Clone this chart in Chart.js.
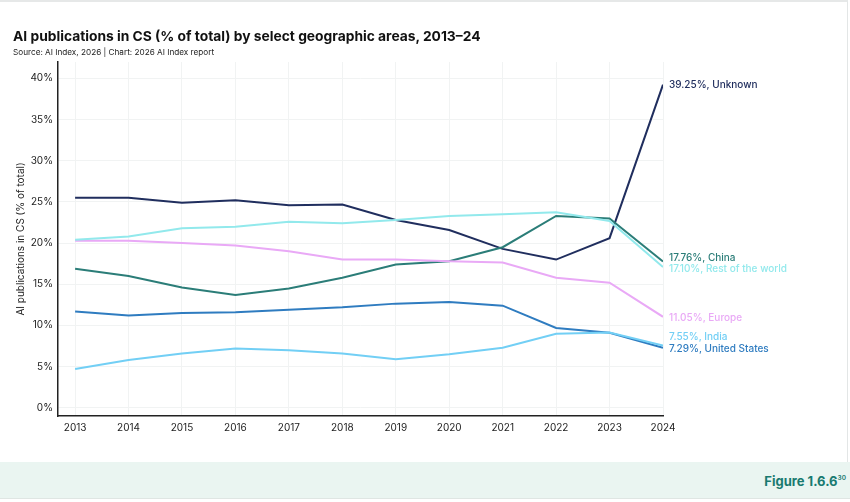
<!DOCTYPE html>
<html>
<head>
<meta charset="utf-8">
<script src="https://cdn.jsdelivr.net/npm/chart.js@4.4.1/dist/chart.umd.min.js"></script>
<style>
  html, body { margin: 0; padding: 0; background: #fff; }
  body { width: 850px; height: 502px; position: relative; overflow: hidden; font-family: Inter, "Open Sans", sans-serif; }
  #card { position: absolute; left: 0; top: 0; width: 848px; height: 462px; border-top: 2px solid #e6e8e8; border-right: 1px solid #e3e6e6; box-sizing: border-box; }
  #title { position: absolute; left: 13px; top: 28px; font-size: 13.8px; font-weight: 700; color: #111; }
  #sub { position: absolute; left: 13px; top: 47px; font-size: 8.2px; color: #222; }
  #wrap { position: absolute; left: 0; top: 0; width: 850px; height: 462px; }
  #foot { position: absolute; left: 0; top: 462px; width: 850px; height: 36px; background: #eaf5f1; border-bottom: 1px solid #dfe6e3; }
  #fig { position: absolute; right: 4px; top: 11px; font-size: 13px; font-weight: 700; color: #197a70; }
  #fig sup { font-size: 6.5px; font-weight: 600; vertical-align: 6px; }
</style>
</head>
<body>
<div id="card"></div>
<div id="wrap"><canvas id="c" width="850" height="462"></canvas></div>
<div id="title">AI publications in CS (% of total) by select geographic areas, 2013–24</div>
<div id="sub">Source: AI Index, 2026 | Chart: 2026 AI Index report</div>
<div id="foot"><div id="fig">Figure 1.6.6<sup>30</sup></div></div>
<script>
const years = [2013, 2014, 2015, 2016, 2017, 2018, 2019, 2020, 2021, 2022, 2023, 2024];
const yTicks = [0, 5, 10, 15, 20, 25, 30, 35, 40];

const unknown = [25.5, 25.5, 24.9, 25.2, 24.6, 24.7, 22.8, 21.6, 19.3, 18.0, 20.6, 39.25];
const china = [16.9, 16.0, 14.6, 13.7, 14.5, 15.8, 17.4, 17.8, 19.5, 23.3, 23.0, 17.76];
const restOfWorld = [20.4, 20.8, 21.8, 22.0, 22.6, 22.4, 22.8, 23.3, 23.5, 23.75, 22.7, 17.10];
const europe = [20.3, 20.3, 20.0, 19.7, 19.0, 18.0, 18.0, 17.8, 17.65, 15.8, 15.2, 11.05];
const india = [4.7, 5.8, 6.6, 7.2, 7.0, 6.6, 5.9, 6.5, 7.3, 9.0, 9.15, 7.55];
const unitedStates = [11.7, 11.2, 11.5, 11.6, 11.9, 12.2, 12.65, 12.85, 12.4, 9.7, 9.1, 7.29];

const series = [
  { name: "Rest of the world", data: restOfWorld, color: "#92e9ec", dy: 2 },
  { name: "Europe", data: europe, color: "#e9a9f6", dy: 1 },
  { name: "India", data: india, color: "#72cff5", dy: -9 },
  { name: "United States", data: unitedStates, color: "#2f7cc0", dy: 1 },
  { name: "China", data: china, color: "#2b7d78", dy: -4 },
  { name: "Unknown", data: unknown, color: "#202e5e", dy: 0 }
];

const endLabels = {
  id: "endLabels",
  afterDatasetsDraw(chart) {
    const ctx = chart.ctx;
    const xs = chart.scales.x, ys = chart.scales.y;
    ctx.save();
    ctx.font = "500 10px Inter, 'Open Sans', sans-serif";
    ctx.textBaseline = "middle";
    ctx.textAlign = "left";
    series.forEach(s => {
      const v = s.data[s.data.length - 1];
      const x = xs.getPixelForValue(years[years.length - 1]) + 6;
      const y = ys.getPixelForValue(v) + s.dy;
      ctx.fillStyle = s.color;
      ctx.fillText(v.toFixed(2) + "%, " + s.name, x, y);
    });
    ctx.restore();
  }
};

new Chart(document.getElementById("c"), {
  type: "line",
  data: {
    datasets: series.map(s => ({
      label: s.name,
      data: years.map((yr, i) => ({ x: yr, y: s.data[i] })),
      borderColor: s.color,
      backgroundColor: s.color,
      borderWidth: 2,
      pointRadius: 0,
      tension: 0,
      fill: false
    }))
  },
  options: {
    responsive: false,
    animation: false,
    layout: { padding: { top: 62, right: 187, bottom: 16, left: 0 } },
    plugins: { legend: { display: false }, tooltip: { enabled: false } },
    scales: {
      x: {
        type: "linear",
        min: 2012.68,
        max: 2024,
        afterBuildTicks: sc => { sc.ticks = years.map(v => ({ value: v })); },
        afterFit: sc => { sc.height = 30; },
        grid: { color: "#f1f3f3", drawTicks: false },
        border: { color: "#222", width: 1.5 },
        ticks: { color: "#222", padding: 6, font: { size: 10, family: "Inter, 'Open Sans', sans-serif" }, callback: v => String(v), maxRotation: 0 }
      },
      y: {
        min: -1,
        max: 42,
        afterBuildTicks: sc => { sc.ticks = yTicks.map(v => ({ value: v })); },
        afterFit: sc => { sc.width = 58; },
        grid: { color: "#f1f3f3", drawTicks: false },
        border: { color: "#222", width: 1.5 },
        ticks: { color: "#222", padding: 5, font: { size: 10, family: "Inter, 'Open Sans', sans-serif" }, callback: v => v + "%" },
        title: { display: true, text: "AI publications in CS (% of total)", color: "#222", font: { size: 10, family: "Inter, 'Open Sans', sans-serif" }, padding: { top: 15, bottom: 0 } }
      }
    }
  },
  plugins: [endLabels]
});
</script>
</body>
</html>
